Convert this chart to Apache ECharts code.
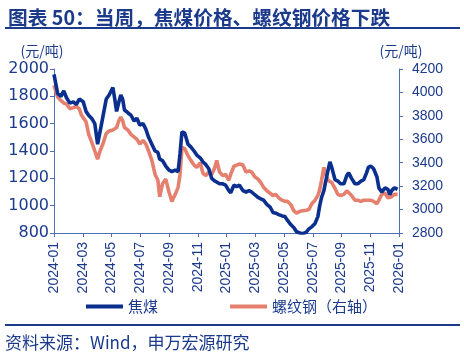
<!DOCTYPE html>
<html>
<head>
<meta charset="utf-8">
<script src="https://cdn.jsdelivr.net/npm/echarts@6/dist/echarts.min.js"></script>
<style>html,body{margin:0;padding:0;background:#fff;}#c{width:464px;height:355px;}</style>
</head>
<body>
<div id="c"></div>
<script>
// ---- data ----
const dates = [
'2024-01-01','2024-01-05','2024-01-09','2024-01-16','2024-01-22','2024-01-28','2024-02-04','2024-02-11','2024-02-17','2024-02-23',
'2024-02-27','2024-03-02','2024-03-08','2024-03-14','2024-03-20','2024-03-27','2024-04-02','2024-04-07','2024-04-13','2024-04-20',
'2024-04-26','2024-04-30','2024-05-04','2024-05-08','2024-05-12','2024-05-17','2024-05-21','2024-05-25','2024-05-29','2024-06-05',
'2024-06-12','2024-06-18','2024-06-24','2024-06-30','2024-07-07','2024-07-13','2024-07-19','2024-07-26','2024-08-02','2024-08-08',
'2024-08-12','2024-08-18','2024-08-25','2024-09-01','2024-09-07','2024-09-14','2024-09-20','2024-09-24','2024-09-28','2024-10-04',
'2024-10-11','2024-10-17','2024-10-24','2024-10-30','2024-11-06','2024-11-12','2024-11-18','2024-11-24','2024-11-30','2024-12-07',
'2024-12-11','2024-12-17','2024-12-24','2024-12-30','2025-01-06','2025-01-10','2025-01-17','2025-01-23','2025-01-29','2025-02-05',
'2025-02-11','2025-02-17','2025-02-22','2025-02-28','2025-03-07','2025-03-13','2025-03-19','2025-03-26','2025-04-02','2025-04-08',
'2025-04-14','2025-04-20','2025-04-27','2025-05-03','2025-05-09','2025-05-16','2025-05-22','2025-05-28','2025-06-04','2025-06-10',
'2025-06-17','2025-06-23','2025-06-29','2025-07-06','2025-07-12','2025-07-16','2025-07-20','2025-07-25','2025-07-29','2025-08-03',
'2025-08-07','2025-08-11','2025-08-18','2025-08-24','2025-08-30','2025-09-06','2025-09-12','2025-09-16','2025-09-22','2025-09-29',
'2025-10-05','2025-10-12','2025-10-18','2025-10-24','2025-10-28','2025-11-02','2025-11-08','2025-11-15','2025-11-19','2025-11-25',
'2025-12-02','2025-12-08','2025-12-12','2025-12-16','2025-12-22','2025-12-29'
];
const cokingCoal = [
1960,1890,1820,1800,1840,1790,1750,1760,1740,1780,
1790,1760,1690,1660,1640,1600,1450,1540,1650,1780,
1810,1820,1865,1780,1690,1760,1810,1780,1700,1680,
1660,1620,1640,1590,1600,1560,1500,1450,1400,1390,
1340,1330,1290,1260,1250,1260,1250,1380,1540,1530,
1450,1430,1400,1370,1350,1320,1300,1270,1200,1180,
1170,1160,1160,1150,1110,1095,1150,1140,1150,1110,
1100,1110,1100,1080,1060,1050,1040,1010,990,950,
945,935,925,920,890,860,840,810,800,795,
805,830,845,870,920,1000,1060,1110,1180,1260,
1320,1280,1190,1180,1160,1160,1220,1240,1200,1160,
1160,1180,1190,1240,1280,1290,1270,1210,1130,1100,
1130,1120,1080,1110,1130,1120
];
const rebar = [
4060,4010,3960,3930,3910,3900,3860,3870,3880,3860,
3810,3800,3750,3640,3580,3500,3430,3500,3560,3650,
3670,3670,3680,3670,3700,3760,3790,3760,3700,3680,
3640,3620,3600,3560,3590,3560,3500,3420,3300,3250,
3110,3220,3260,3150,3070,3130,3190,3300,3530,3520,
3460,3420,3380,3360,3400,3310,3290,3320,3300,3360,
3420,3320,3290,3300,3250,3300,3370,3380,3390,3380,
3320,3330,3320,3280,3260,3230,3190,3160,3140,3120,
3130,3100,3080,3070,3070,3040,2990,2970,2985,2990,
2995,3000,3050,3080,3120,3170,3250,3360,3300,3250,
3250,3230,3180,3130,3120,3130,3160,3160,3120,3080,
3080,3070,3080,3080,3090,3080,3070,3050,3080,3130,
3140,3100,3090,3110,3130,3130
];
const xTickLabels = ['2024-01','2024-03','2024-05','2024-07','2024-09','2024-11','2025-01','2025-03','2025-05','2025-07','2025-09','2025-11','2026-01'];
const seriesNames = ['焦煤','螺纹钢（右轴）'];

// month offset from 2024-01-01
function monthIdx(s){
  const [y,m,d] = s.split('-').map(Number);
  const dim = new Date(y, m, 0).getDate();
  return (y-2024)*12 + (m-1) + (d-1)/dim;
}
const coalData = dates.map((d,i)=>[monthIdx(d), cokingCoal[i]]);
const rebarData = dates.map((d,i)=>[monthIdx(d), rebar[i]]);

const NAVY = '#1B3A8C';
const AXIS = '#4F6FB5';
const BLUE = '#0A2F8F';
const RED = '#E5806E';
const plain = v => String(v);

const chart = echarts.init(document.getElementById('c'), null, {renderer:'canvas'});
chart.setOption({
  animation:false,
  backgroundColor:'#fff',
  title:{
    text:'图表 50：当周，焦煤价格、螺纹钢价格下跌',
    left:3, top:3,
    textStyle:{fontFamily:'Noto Sans CJK SC', fontSize:19.7, fontWeight:'bold', color:NAVY}
  },
  graphic:[
    {type:'rect', shape:{x:5,y:27,width:455,height:2}, style:{fill:NAVY}, silent:true},
    {type:'rect', shape:{x:5,y:324,width:455,height:2}, style:{fill:NAVY}, silent:true},
    {type:'text', left:5, top:334, style:{text:'资料来源：Wind，申万宏源研究', fontFamily:'Noto Sans CJK SC', fontSize:17, fill:NAVY}}
  ],
  legend:{
    data:seriesNames,
    left:86, top:299,
    itemWidth:37, itemHeight:4, itemGap:72,
    icon:'rect',
    padding:0,
    textStyle:{fontFamily:'Noto Sans CJK SC', fontSize:15, color:NAVY}
  },
  grid:{left:54, right:65, top:69, bottom:122, containLabel:false},
  xAxis:{
    type:'value', min:0, max:24, interval:2,
    axisLine:{show:true, lineStyle:{color:AXIS, width:1}},
    axisTick:{show:true, inside:false, length:4, lineStyle:{color:AXIS}},
    splitLine:{show:false},
    axisLabel:{
      rotate:90, margin:9,
      fontFamily:'Liberation Sans', fontSize:14, color:NAVY,
      formatter:function(v){ const i = Math.round(v/2); return xTickLabels[i] || ''; }
    }
  },
  yAxis:[
    {
      type:'value', min:800, max:2000, interval:200,
      name:'(元/吨)', nameLocation:'end', nameGap:11,
      nameTextStyle:{fontFamily:'Noto Sans CJK SC', fontSize:14, color:NAVY, padding:[0,24,0,0]},
      axisLine:{show:true, lineStyle:{color:AXIS, width:1}},
      axisTick:{show:true, length:4, lineStyle:{color:AXIS}},
      splitLine:{show:false},
      axisLabel:{margin:5, fontFamily:'DejaVu Sans', fontSize:16, color:NAVY, formatter:plain}
    },
    {
      type:'value', min:2800, max:4200, interval:200, position:'right',
      name:'(元/吨)', nameLocation:'end', nameGap:11,
      nameTextStyle:{fontFamily:'Noto Sans CJK SC', fontSize:14, color:NAVY, padding:[0,0,0,4]},
      axisLine:{show:true, lineStyle:{color:AXIS, width:1}},
      axisTick:{show:true, length:4, lineStyle:{color:AXIS}},
      splitLine:{show:false},
      axisLabel:{margin:13, fontFamily:'Liberation Sans', fontSize:14, color:NAVY, formatter:plain}
    }
  ],
  series:[
    {name:seriesNames[0], type:'line', yAxisIndex:0, data:coalData, showSymbol:false, symbol:'none', z:3,
     lineStyle:{color:BLUE, width:3.6}, itemStyle:{color:BLUE}},
    {name:seriesNames[1], type:'line', yAxisIndex:1, data:rebarData, showSymbol:false, symbol:'none', z:2,
     lineStyle:{color:RED, width:3.6}, itemStyle:{color:RED}}
  ]
});
</script>
</body>
</html>
